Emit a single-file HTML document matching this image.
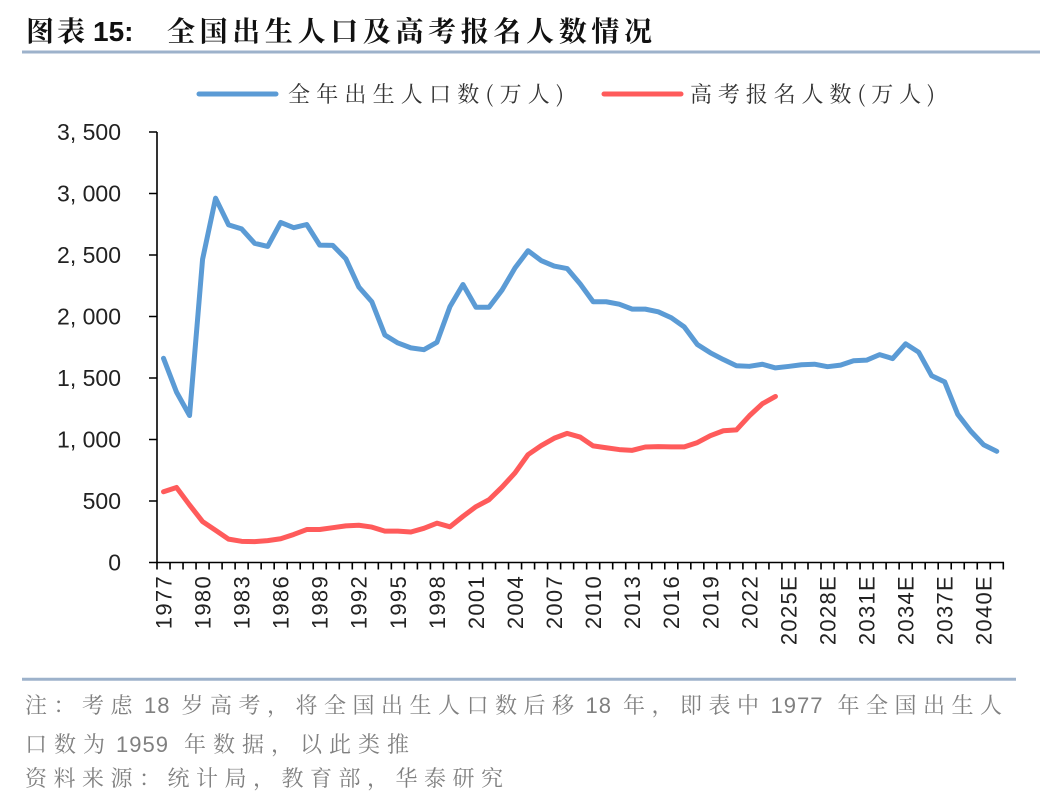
<!DOCTYPE html>
<html>
<head>
<meta charset="utf-8">
<style>
  html, body { margin: 0; padding: 0; background: #ffffff; }
  body { width: 1048px; height: 808px; overflow: hidden; }
  svg { display: block; }
</style>
</head>
<body>
<svg width="1048" height="808" viewBox="0 0 1048 808" xmlns="http://www.w3.org/2000/svg">
  <rect width="1048" height="808" fill="#ffffff"/>

  <!-- Title -->
  <text x="26" y="41" font-family="'Noto Serif CJK SC', 'Noto Sans CJK SC', serif" font-weight="bold" font-size="28" fill="#111" letter-spacing="3">图表</text>
  <text x="93" y="41" font-family="'Liberation Sans', sans-serif" font-weight="bold" font-size="28" fill="#111">15:</text>
  <text x="167" y="41" font-family="'Liberation Serif', 'Noto Serif CJK SC', serif" font-weight="bold" font-size="28" fill="#111" textLength="485" lengthAdjust="spacing">全国出生人口及高考报名人数情况</text>
  <line x1="22" y1="52" x2="1040" y2="52" stroke="#9db2cb" stroke-width="3"/>

  <!-- Legend -->
  <line x1="199" y1="94" x2="276" y2="94" stroke="#5b9bd5" stroke-width="5" stroke-linecap="round"/>
  <text x="288" y="102" font-family="'Noto Serif CJK SC', serif" font-size="22" fill="#333" textLength="276" lengthAdjust="spacing">全年出生人口数(万人)</text>
  <line x1="604" y1="94" x2="681" y2="94" stroke="#ff5b5b" stroke-width="5" stroke-linecap="round"/>
  <text x="690" y="102" font-family="'Noto Serif CJK SC', serif" font-size="22" fill="#333" textLength="245" lengthAdjust="spacing">高考报名人数(万人)</text>

  <!-- Y axis labels -->
  <g font-family="'Liberation Sans', sans-serif" font-size="23" fill="#222" text-anchor="end">
    <text x="121" y="140">3, 500</text>
    <text x="121" y="201.5">3, 000</text>
    <text x="121" y="263">2, 500</text>
    <text x="121" y="324.5">2, 000</text>
    <text x="121" y="386">1, 500</text>
    <text x="121" y="447.5">1, 000</text>
    <text x="121" y="509">500</text>
    <text x="121" y="570.5">0</text>
  </g>

  <!-- Axes -->
  <g stroke="#000" stroke-width="1.6" fill="none">
    <line x1="157" y1="132" x2="157" y2="563.3"/>
    <line x1="156.2" y1="562.5" x2="1004" y2="562.5"/>
    <path d="M149,132H157M149,193.5H157M149,255H157M149,316.5H157M149,378H157M149,439.5H157M149,501H157M149,562.5H157"/>
    <path d="M157,562.5v7M170.02,562.5v7M183.04,562.5v7M196.06,562.5v7M209.08,562.5v7M222.1,562.5v7M235.12,562.5v7M248.14,562.5v7M261.16,562.5v7M274.18,562.5v7M287.2,562.5v7M300.22,562.5v7M313.24,562.5v7M326.26,562.5v7M339.28,562.5v7M352.3,562.5v7M365.32,562.5v7M378.34,562.5v7M391.36,562.5v7M404.38,562.5v7M417.4,562.5v7M430.42,562.5v7M443.44,562.5v7M456.46,562.5v7M469.48,562.5v7M482.5,562.5v7M495.52,562.5v7M508.54,562.5v7M521.56,562.5v7M534.58,562.5v7M547.6,562.5v7M560.62,562.5v7M573.64,562.5v7M586.66,562.5v7M599.68,562.5v7M612.7,562.5v7M625.72,562.5v7M638.74,562.5v7M651.76,562.5v7M664.78,562.5v7M677.8,562.5v7M690.82,562.5v7M703.84,562.5v7M716.86,562.5v7M729.88,562.5v7M742.9,562.5v7M755.92,562.5v7M768.94,562.5v7M781.96,562.5v7M794.98,562.5v7M808,562.5v7M821.02,562.5v7M834.04,562.5v7M847.06,562.5v7M860.08,562.5v7M873.1,562.5v7M886.12,562.5v7M899.14,562.5v7M912.16,562.5v7M925.18,562.5v7M938.2,562.5v7M951.22,562.5v7M964.24,562.5v7M977.26,562.5v7M990.28,562.5v7M1003.3,562.5v7"/>
  </g>

  <!-- X axis labels (rotated) -->
  <g font-family="'Liberation Sans', sans-serif" font-size="22" fill="#222" text-anchor="end" letter-spacing="1.3">
    <text transform="translate(163.51,575) rotate(-90)" dy="0.36em">1977</text>
    <text transform="translate(202.57,575) rotate(-90)" dy="0.36em">1980</text>
    <text transform="translate(241.63,575) rotate(-90)" dy="0.36em">1983</text>
    <text transform="translate(280.69,575) rotate(-90)" dy="0.36em">1986</text>
    <text transform="translate(319.75,575) rotate(-90)" dy="0.36em">1989</text>
    <text transform="translate(358.81,575) rotate(-90)" dy="0.36em">1992</text>
    <text transform="translate(397.87,575) rotate(-90)" dy="0.36em">1995</text>
    <text transform="translate(436.93,575) rotate(-90)" dy="0.36em">1998</text>
    <text transform="translate(475.99,575) rotate(-90)" dy="0.36em">2001</text>
    <text transform="translate(515.05,575) rotate(-90)" dy="0.36em">2004</text>
    <text transform="translate(554.11,575) rotate(-90)" dy="0.36em">2007</text>
    <text transform="translate(593.17,575) rotate(-90)" dy="0.36em">2010</text>
    <text transform="translate(632.23,575) rotate(-90)" dy="0.36em">2013</text>
    <text transform="translate(671.29,575) rotate(-90)" dy="0.36em">2016</text>
    <text transform="translate(710.35,575) rotate(-90)" dy="0.36em">2019</text>
    <text transform="translate(749.41,575) rotate(-90)" dy="0.36em">2022</text>
    <text transform="translate(788.47,575) rotate(-90)" dy="0.36em">2025E</text>
    <text transform="translate(827.53,575) rotate(-90)" dy="0.36em">2028E</text>
    <text transform="translate(866.59,575) rotate(-90)" dy="0.36em">2031E</text>
    <text transform="translate(905.65,575) rotate(-90)" dy="0.36em">2034E</text>
    <text transform="translate(944.71,575) rotate(-90)" dy="0.36em">2037E</text>
    <text transform="translate(983.77,575) rotate(-90)" dy="0.36em">2040E</text>
  </g>

  <!-- Series: births (blue) -->
  <g transform="translate(163.51,562.5) scale(13.02,-0.123)">
    <polyline fill="none" stroke="#5b9bd5" stroke-width="5" stroke-linejoin="round" stroke-linecap="round" vector-effect="non-scaling-stroke"
      points="0,1660 1,1385 2,1195 3,2465 4,2962 5,2745 6,2712 7,2595 8,2570 9,2765 10,2722 11,2748 12,2580 13,2578 14,2470 15,2240 16,2120 17,1850 18,1785 19,1745 20,1730 21,1790 22,2080 23,2260 24,2075 25,2075 26,2215 27,2395 28,2535 29,2455 30,2410 31,2390 32,2265 33,2120 34,2120 35,2100 36,2060 37,2060 38,2038 39,1990 40,1915 41,1772 42,1705 43,1650 44,1600 45,1595 46,1612 47,1582 48,1594 49,1608 50,1612 51,1592 52,1605 53,1640 54,1645 55,1690 56,1658 57,1778 58,1710 59,1518 60,1468 61,1205 62,1068 63,956 64,904"/>
  </g>

  <!-- Series: gaokao registrations (red) -->
  <g transform="translate(163.51,562.5) scale(13.02,-0.123)">
    <polyline fill="none" stroke="#ff5b5b" stroke-width="5" stroke-linejoin="round" stroke-linecap="round" vector-effect="non-scaling-stroke"
      points="0,575 1,610 2,468 3,333 4,262 5,190 6,172 7,170 8,178 9,193 10,228 11,268 12,268 13,283 14,298 15,303 16,288 17,255 18,255 19,248 20,278 21,320 22,290 23,375 24,454 25,510 26,613 27,729 28,877 29,950 30,1010 31,1050 32,1020 33,948 34,933 35,918 36,912 37,939 38,942 39,940 40,940 41,975 42,1031 43,1071 44,1078 45,1193 46,1291 47,1350"/>
  </g>

  <!-- Bottom separator -->
  <line x1="22" y1="679.3" x2="1016" y2="679.3" stroke="#9db2cb" stroke-width="3"/>

  <!-- Notes -->
  <g font-family="'Liberation Sans', 'Noto Serif CJK SC', serif" font-size="22" fill="#808080">
    <text y="713"><tspan x="25" letter-spacing="6.5">注：考虑</tspan><tspan x="144" letter-spacing="1">18</tspan><tspan x="181.5" letter-spacing="6.5">岁高考，将全国出生人口数后移</tspan><tspan x="585.5" letter-spacing="1">18</tspan><tspan x="623" letter-spacing="6.5">年，即表中</tspan><tspan x="770.5" letter-spacing="1">1977</tspan><tspan x="837.5" letter-spacing="6.5">年全国出生人</tspan></text>
    <text y="752"><tspan x="25" letter-spacing="7">口数为</tspan><tspan x="116" letter-spacing="1">1959</tspan><tspan x="184" letter-spacing="7">年数据，以此类推</tspan></text>
    <text x="25" y="786" letter-spacing="6.5">资料来源：统计局，教育部，华泰研究</text>
  </g>
</svg>
</body>
</html>
